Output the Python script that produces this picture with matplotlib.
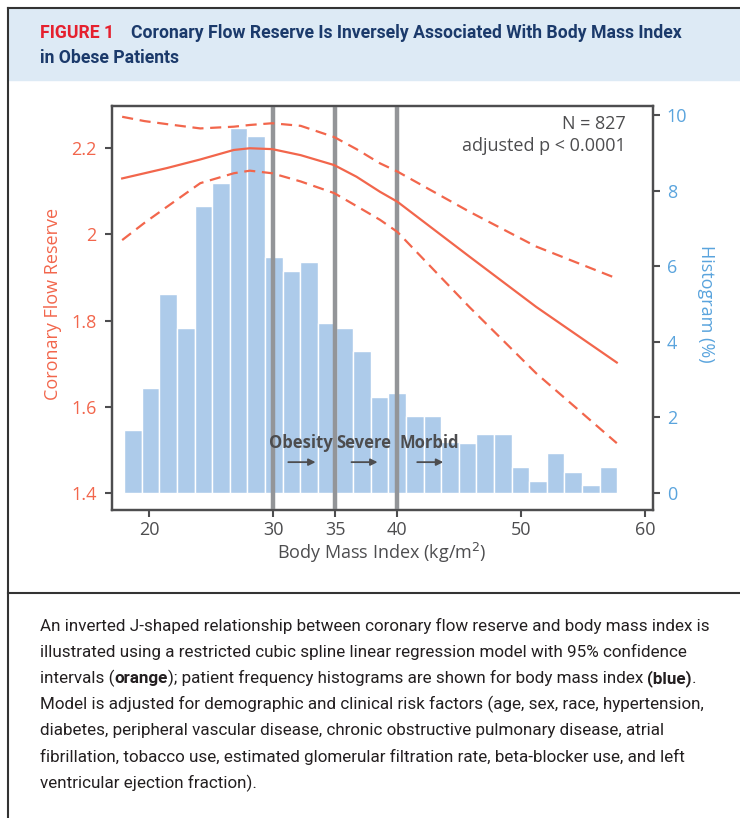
import numpy as np
import matplotlib.pyplot as plt
from matplotlib.patches import Rectangle
from matplotlib.lines import Line2D

W, H = 740, 818

# histogram of BMI (percent of patients), 28 bins
bin_start = 17.97
bin_width = 1.42
hist_pct = [1.67, 2.79, 5.26, 4.37, 7.59, 8.2, 9.67, 9.44, 6.24, 5.87, 6.11, 4.5, 4.37, 3.76,
            2.55, 2.65, 2.04, 2.04, 1.35, 1.33, 1.57, 1.57, 0.69, 0.32, 1.06, 0.56, 0.21, 0.69]

# restricted cubic spline fit + 95% CI
bmi_pts = [17.8, 19.6, 21.4, 24.1, 26.8, 28.1, 29.9, 32.2, 34.9, 36.7, 38.6, 40.0, 45.8, 51.2, 57.7]
cfr_fit = [2.130, 2.142, 2.154, 2.174, 2.196, 2.200, 2.198, 2.184, 2.161, 2.134, 2.099, 2.076, 1.949, 1.832, 1.703]
cfr_upper = [2.273, 2.263, 2.256, 2.246, 2.250, 2.254, 2.258, 2.252, 2.226, 2.198, 2.165, 2.146, 2.053, 1.972, 1.898]
cfr_lower = [1.987, 2.027, 2.064, 2.119, 2.142, 2.148, 2.142, 2.123, 2.096, 2.066, 2.034, 2.006, 1.832, 1.678, 1.516]

cutoffs = [30, 35, 40]
cut_labels = ['Obesity', 'Severe', 'Morbid']
cut_label_x = [29.65, 35.05, 40.2]
arrow_x = [(31.2, 33.4), (36.3, 38.4), (41.6, 43.7)]

x_ticks = [20, 30, 35, 40, 50, 60]
y_ticks = [1.4, 1.6, 1.8, 2.0, 2.2]
y_ticklabels = ['1.4', '1.6', '1.8', '2', '2.2']
h_ticks = [0, 2, 4, 6, 8, 10]

title_1 = 'Coronary Flow Reserve Is Inversely Associated With Body Mass Index'
title_2 = 'in Obese Patients'
caption_lines = [
    [('An inverted J-shaped relationship between coronary flow reserve and body mass index is', 'normal')],
    [('illustrated using a restricted cubic spline linear regression model with 95% confidence', 'normal')],
    [('intervals (', 'normal'), ('orange', 'bold'),
     ('); patient frequency histograms are shown for body mass index ', 'normal'),
     ('(blue)', 'bold'), ('.', 'normal')],
    [('Model is adjusted for demographic and clinical risk factors (age, sex, race, hypertension,', 'normal')],
    [('diabetes, peripheral vascular disease, chronic obstructive pulmonary disease, atrial', 'normal')],
    [('fibrillation, tobacco use, estimated glomerular filtration rate, beta-blocker use, and left', 'normal')],
    [('ventricular ejection fraction).', 'normal')],
]

ORANGE = '#F2664C'
BLUE = '#5AA4DD'
BAR = '#ADCBEA'
GREY = '#939598'
DARK = '#4D4D4F'
NAVY = '#1B3A6B'
RED = '#E5202E'
chart_font = ['Open Sans', 'DejaVu Sans']
text_font = ['Roboto', 'DejaVu Sans']

plt.rcParams['font.family'] = chart_font

fig = plt.figure(figsize=(W / 100, H / 100), dpi=100)
renderer = fig.canvas.get_renderer()


def fx(px):
    return px / W


def fy(py):
    return 1 - py / H


def fit_size(txt, width_px, weight):
    # font size that makes txt span width_px
    t = fig.text(0, 0, txt, fontsize=13, fontweight=weight, family=text_font)
    w = t.get_window_extent(renderer).width
    t.remove()
    return 13 * width_px / w


# header band and frame
fig.patches.append(Rectangle((fx(9), fy(80)), 1 - fx(9), fy(9) - fy(80),
                             transform=fig.transFigure, color='#DDEAF5', zorder=0))
for xs, ys in [([fx(8), fx(8)], [fy(8), 0]), ([fx(8), 1], [fy(8), fy(8)]),
               ([fx(8), 1], [fy(593), fy(593)])]:
    fig.add_artist(Line2D(xs, ys, transform=fig.transFigure, color='#333333', lw=1.5))

tsize = fit_size(title_1, 550, 'bold')
fig.text(fx(40), fy(33), 'FIGURE 1', color=RED, fontsize=tsize, fontweight='bold',
         family=text_font, va='center')
fig.text(fx(131), fy(33), title_1, color=NAVY, fontsize=tsize, fontweight='bold',
         family=text_font, va='center')
fig.text(fx(40), fy(58), title_2, color=NAVY, fontsize=tsize, fontweight='bold',
         family=text_font, va='center')

# axes
ax = fig.add_axes([fx(112), fy(510), fx(653) - fx(112), fy(106) - fy(510)])
ax2 = ax.twinx()
ax.set_zorder(ax2.get_zorder() + 1)
ax.patch.set_visible(False)

edges = [bin_start + i * bin_width for i in range(len(hist_pct))]
ax2.bar(edges, hist_pct, width=bin_width, align='edge', color=BAR, edgecolor='white', linewidth=1)

for c in cutoffs:
    ax.axvline(c, color=GREY, lw=3.2, zorder=2)

ax.plot(bmi_pts, cfr_fit, color=ORANGE, lw=1.6, zorder=3)
ax.plot(bmi_pts, cfr_upper, color=ORANGE, lw=1.6, ls=(0, (5, 3)), zorder=3)
ax.plot(bmi_pts, cfr_lower, color=ORANGE, lw=1.6, ls=(0, (5, 3)), zorder=3)

for lab, lx, (a0, a1) in zip(cut_labels, cut_label_x, arrow_x):
    ax.text(lx, 1.516, lab, fontsize=12, fontweight='bold', color=DARK, va='center', ha='left', zorder=4)
    ax.annotate('', xy=(a1, 1.472), xytext=(a0, 1.472),
                arrowprops=dict(arrowstyle='-|>', color=DARK, lw=1.3, mutation_scale=10,
                                shrinkA=0, shrinkB=0), zorder=4)

ax.text(0.950, 0.955, 'N = 827', transform=ax.transAxes, ha='right', va='center', fontsize=13, color=DARK)
ax.text(0.950, 0.901, 'adjusted p < 0.0001', transform=ax.transAxes, ha='right', va='center',
        fontsize=13, color=DARK)

ax.set_xlim(16.98, 60.62)
ax.set_ylim(1.361, 2.298)
ax2.set_ylim(-0.45, 10.24)
ax.set_xticks(x_ticks)
ax.set_yticks(y_ticks)
ax.set_yticklabels(y_ticklabels)
ax2.set_yticks(h_ticks)

for a in (ax, ax2):
    for s in a.spines.values():
        s.set_color(DARK)
        s.set_linewidth(1.6)
ax.tick_params(axis='x', direction='out', length=5, width=1.5, color=DARK, labelsize=13,
               labelcolor=DARK, pad=3)
ax.tick_params(axis='y', direction='out', length=5, width=1.5, color=DARK, labelsize=13,
               labelcolor=ORANGE, pad=6)
ax2.tick_params(axis='y', direction='out', length=5, width=1.5, color=DARK, labelsize=13,
                labelcolor=BLUE, pad=5)

fig.text(fx(382), fy(553), 'Body Mass Index (kg/m$^2$)', ha='center', va='center', fontsize=13, color=DARK)
fig.text(fx(53), fy(304), 'Coronary Flow Reserve', ha='center', va='center', rotation=90,
         fontsize=13, color=ORANGE)
fig.text(fx(706), fy(304), 'Histogram (%)', ha='center', va='center', rotation=270,
         fontsize=13, color=BLUE)

# caption, segments chained along each line
csize = fit_size(caption_lines[0][0][0], 668, 'normal')
for i, segs in enumerate(caption_lines):
    xpx = 40
    ypx = 626 + i * 26.2
    for txt, wt in segs:
        t = fig.text(fx(xpx), fy(ypx), txt, fontsize=csize, fontweight=wt, family=text_font,
                     color='#231F20', va='center', ha='left')
        xpx += t.get_window_extent(renderer).width

fig.savefig('out.png', dpi=100)
